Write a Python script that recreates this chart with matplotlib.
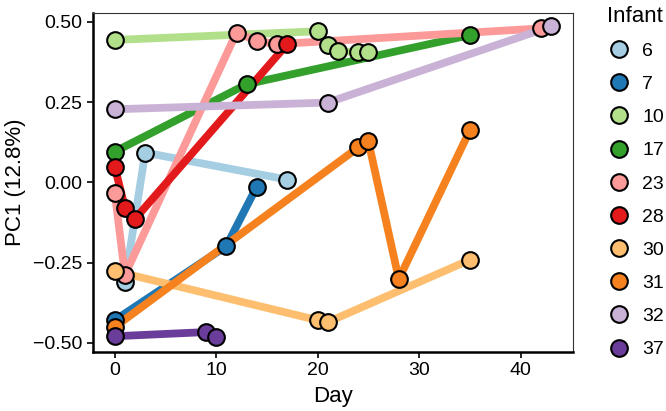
import matplotlib.pyplot as plt
from matplotlib.lines import Line2D

plt.rcParams['font.family'] = ['Liberation Sans', 'DejaVu Sans']

# infants and their colours (Paired palette)
infants = ['6', '7', '10', '17', '23', '28', '30', '31', '32', '37']
colors = ['#A6CEE3', '#1F78B4', '#B2DF8A', '#33A02C', '#FB9A99',
          '#E31A1C', '#FDBF6F', '#F5821F', '#CAB2D6', '#6A3D9A']

# sampling day and PC1 score per infant
day_6 = [1, 3, 17]
pc1_6 = [-0.31, 0.093, 0.009]
day_7 = [0, 11, 14]
pc1_7 = [-0.429, -0.198, -0.013]
day_10 = [0, 20, 21, 22, 24, 25]
pc1_10 = [0.444, 0.471, 0.428, 0.409, 0.406, 0.406]
day_17 = [0, 13, 35]
pc1_17 = [0.096, 0.306, 0.459]
day_23 = [0, 1, 12, 14, 16, 42]
pc1_23 = [-0.032, -0.288, 0.467, 0.441, 0.431, 0.48]
day_28 = [0, 1, 2, 17]
pc1_28 = [0.049, -0.079, -0.113, 0.431]
day_30 = [0, 20, 21, 35]
pc1_30 = [-0.276, -0.429, -0.435, -0.241]
day_31 = [0, 24, 25, 28, 35]
pc1_31 = [-0.45, 0.109, 0.128, -0.301, 0.162]
day_32 = [0, 21, 43]
pc1_32 = [0.228, 0.249, 0.486]
day_37 = [0, 9, 10]
pc1_37 = [-0.479, -0.466, -0.482]

days = [day_6, day_7, day_10, day_17, day_23, day_28, day_30, day_31, day_32, day_37]
pc1 = [pc1_6, pc1_7, pc1_10, pc1_17, pc1_23, pc1_28, pc1_30, pc1_31, pc1_32, pc1_37]

fig = plt.figure(figsize=(6.66, 4.11), dpi=100)
ax = fig.add_axes([0.1396, 0.1436, 0.7204, 0.8248])

# lines first, then points on top
for d, v, c in zip(days, pc1, colors):
    ax.plot(d, v, color=c, lw=5.6, solid_capstyle='butt', zorder=2)
for d, v, c in zip(days, pc1, colors):
    ax.plot(d, v, 'o', ms=12, mfc=c, mec='black', mew=1.5, ls='none', zorder=3)

ax.set_xlim(-2.15, 45.15)
ax.set_ylim(-0.528, 0.528)
ax.set_xticks([0, 10, 20, 30, 40])
ax.set_yticks([-0.5, -0.25, 0, 0.25, 0.5])
ax.set_yticklabels(['\u22120.50', '\u22120.25', '0.00', '0.25', '0.50'])
ax.tick_params(labelsize=14, length=4, width=1.2, color='black', labelcolor='black')
ax.set_xlabel('Day', fontsize=16, labelpad=5)
ax.set_ylabel('PC1 (12.8%)', fontsize=16, labelpad=5)

for side in ['left', 'bottom']:
    ax.spines[side].set_linewidth(1.8)
    ax.spines[side].set_color('black')
for side in ['top', 'right']:
    ax.spines[side].set_linewidth(0.8)
    ax.spines[side].set_color('#333333')

handles = [Line2D([], [], marker='o', ls='none', ms=12, mfc=c, mec='black', mew=1.5)
           for c in colors]
leg = ax.legend(handles, infants, title='Infant', loc='upper left',
                bbox_to_anchor=(0.9, 1.005), bbox_transform=fig.transFigure,
                frameon=False, fontsize=14, title_fontsize=16,
                labelspacing=0.8, handletextpad=0.6, handlelength=1.2,
                borderaxespad=0)
leg._legend_box.align = 'left'

fig.savefig('out.png', dpi=100)
